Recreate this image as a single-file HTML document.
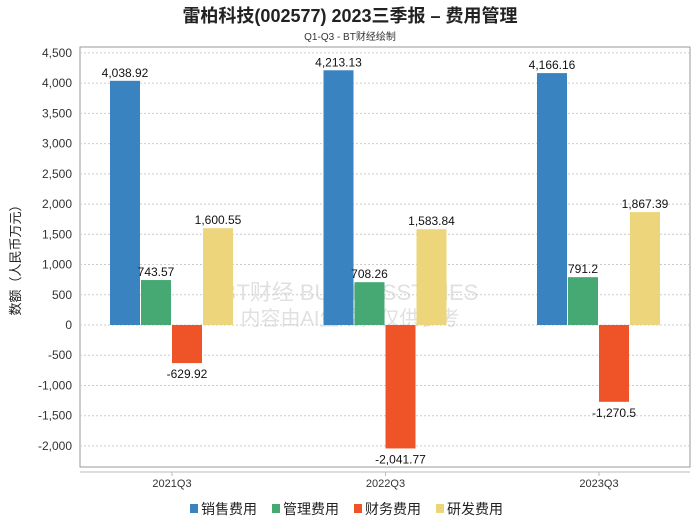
<!DOCTYPE html>
<html><head><meta charset="utf-8"><style>
body{margin:0;background:#fff;width:700px;height:524px;overflow:hidden;font-family:"Liberation Sans","Noto Sans CJK SC",sans-serif}
</style></head><body>
<svg id="c" width="700" height="524" xmlns="http://www.w3.org/2000/svg" font-family="Liberation Sans, Noto Sans CJK SC, sans-serif">
<text x="350" y="22" text-anchor="middle" font-size="18" font-weight="bold" fill="#222">雷柏科技(002577) 2023三季报 – 费用管理</text>
<text x="350" y="40" text-anchor="middle" font-size="10" fill="#333">Q1-Q3 - BT财经绘制</text>
<rect x="80" y="47" width="610" height="420" fill="none" stroke="#999"/>
<line x1="80" y1="472" x2="690" y2="472" stroke="#bbb"/>
<text x="20" y="257" transform="rotate(-90 20 257)" text-anchor="middle" font-size="13" fill="#222">数额（人民币万元）</text>
<text x="350" y="300" text-anchor="middle" font-size="22" fill="#ccc" opacity="0.6">BT财经 BUSINESSTIMES</text>
<text x="350" y="325" text-anchor="middle" font-size="20" fill="#ccc" opacity="0.6">内容由AI生成，仅供参考</text>
<g id="grid"></g><g id="bars"></g><g id="legend"></g>
</svg>
<script>
const categories=["2021Q3","2022Q3","2023Q3"];
const seriesNames=["销售费用","管理费用","财务费用","研发费用"];
const sales=[4038.92,4213.13,4166.16];
const admin=[743.57,708.26,791.2];
const finance=[-629.92,-2041.77,-1270.5];
const rnd=[1600.55,1583.84,1867.39];
const yTicks=[4500,4000,3500,3000,2500,2000,1500,1000,500,0,-500,-1000,-1500,-2000];
const labels=[["4,038.92","4,213.13","4,166.16"],["743.57","708.26","791.2"],["-629.92","-2,041.77","-1,270.5"],["1,600.55","1,583.84","1,867.39"]];
const colors=["#3a83c1","#46a872","#ee5428","#ecd57a"];
const ns="http://www.w3.org/2000/svg";
const y=v=>325-v*30.23/500;
const x=i=>172+i*213.5;
function mk(t,a,p){const e=document.createElementNS(ns,t);for(const k in a)e.setAttribute(k,a[k]);p.appendChild(e);return e;}
const g=document.getElementById('grid');
yTicks.forEach(v=>{
 const l=mk('line',{x1:80,x2:690,y1:y(v),y2:y(v),stroke:'#ccc','stroke-dasharray':'2,2'},g);
 
 
 const t=mk('text',{x:72,y:y(v)+4,'text-anchor':'end','font-size':12,fill:'#333'},g);
 
 
 t.textContent=v.toLocaleString('en-US');
});
const b=document.getElementById('bars');
const series=[sales,admin,finance,rnd];
categories.forEach((c,i)=>{
 const t=mk('text',{x:x(i),y:487,'text-anchor':'middle','font-size':11,fill:'#333'},b);
 
 
 t.textContent=c;
 mk('line',{x1:x(i),x2:x(i),y1:472,y2:476,stroke:'#bbb'},b);
 series.forEach((s,j)=>{
  const v=s[i];const bx=x(i)-62+j*31;
  const r=mk('rect',{x:bx,y:Math.min(y(v),y(0)),width:30,height:Math.abs(y(v)-y(0)),fill:colors[j]},b);
  
  
  const lt=mk('text',{x:bx+15,y:v>=0?y(v)-4:y(v)+15,'text-anchor':'middle','font-size':12,fill:'#111'},b);
  
  
  lt.textContent=labels[j][i];
 });
});
const lg=document.getElementById('legend');
let lx=190;
seriesNames.forEach((n,j)=>{
 const r=mk('rect',{x:lx,y:504,width:8,height:9,fill:colors[j]},lg);
 
 
 const t=mk('text',{x:lx+11,y:514,'font-size':14,fill:'#222'},lg);
 
 
 t.textContent=n;
 lx+=82;
});
</script>
</body></html>
